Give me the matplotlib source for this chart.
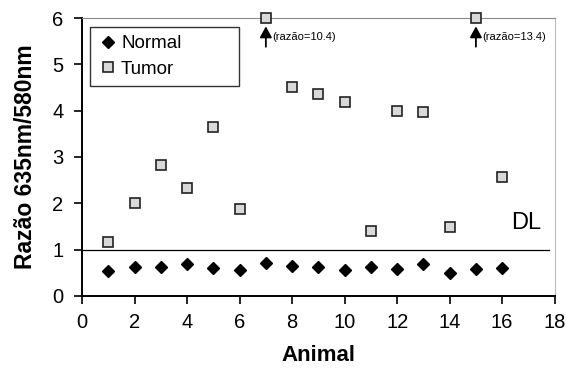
import numpy as np
import matplotlib.pyplot as plt

plt.rcParams['font.family'] = ['Liberation Sans', 'DejaVu Sans']

animal = [1, 2, 3, 4, 5, 6, 7, 8, 9, 10, 11, 12, 13, 14, 15, 16]
normal = [0.53, 0.62, 0.62, 0.68, 0.60, 0.55, 0.70, 0.65, 0.62, 0.55, 0.62, 0.58, 0.68, 0.50, 0.58, 0.60]
tumor = [1.17, 2.00, 2.83, 2.33, 3.65, 1.87, 10.4, 4.50, 4.35, 4.18, 1.40, 4.00, 3.97, 1.48, 13.4, 2.57]
y_top = 6

fig = plt.figure(figsize=(5.66, 3.68), dpi=100)
ax = fig.add_axes([0.145, 0.196, 0.835, 0.755])

# off-scale tumor values sit on the top edge with an arrow note
tumor_shown = np.minimum(tumor, y_top)

ax.axhline(1, xmin=0, xmax=17.8 / 18, color='black', lw=0.9, zorder=1)
ax.plot(animal, normal, ls='none', marker='D', ms=6, color='black', label='Normal', zorder=3)
ax.plot(animal, tumor_shown, ls='none', marker='s', ms=7, mfc='#d9d9d9', mec='#222222', mew=1.2,
        label='Tumor', zorder=3, clip_on=False)

for xa, ya in zip(animal, tumor):
    if ya > y_top:
        ax.annotate('', xy=(xa, 5.82), xytext=(xa, 5.38),
                    arrowprops=dict(arrowstyle='-|>,head_length=0.55,head_width=0.3',
                                    color='black', lw=1.3, mutation_scale=12, shrinkA=0, shrinkB=0))
        ax.text(xa + 0.25, 5.6, '(razão=%.1f)' % ya, fontsize=8, va='center', ha='left')

ax.text(16.35, 1.57, 'DL', fontsize=17, va='center', ha='left')

ax.set_xlim(0, 18)
ax.set_ylim(0, 6)
ax.set_xticks(range(0, 19, 2))
ax.set_yticks(range(0, 7))
ax.tick_params(axis='both', labelsize=14.5, direction='out', length=5.5, width=1.2)
ax.tick_params(axis='x', pad=7)
ax.tick_params(axis='y', pad=8)
ax.spines['left'].set_linewidth(1.4)
ax.spines['bottom'].set_linewidth(1.4)
ax.spines['top'].set_color('#888888')
ax.spines['right'].set_color('#bbbbbb')

ax.set_xlabel('Animal', fontsize=16, fontweight='bold', labelpad=9)
ax.set_ylabel('Razão 635nm/580nm', fontsize=16.5, fontweight='bold', labelpad=11)

leg = ax.legend(loc='upper left', bbox_to_anchor=(0.017, 0.768, 0.314, 0.2), mode='expand',
                fontsize=13.5, frameon=True, fancybox=False, edgecolor='black',
                handlelength=1.0, handletextpad=0.2, borderpad=0.45, labelspacing=0.45,
                borderaxespad=0)
leg.get_frame().set_linewidth(1.0)

fig.savefig('out.png', dpi=100)
